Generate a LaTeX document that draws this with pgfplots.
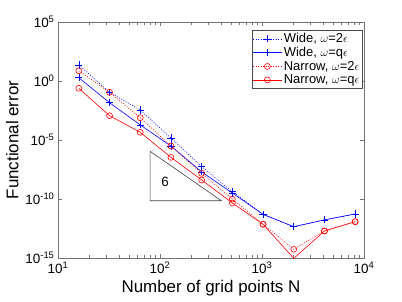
\documentclass[border=0pt]{standalone}
\usepackage{pgfplots}
\pgfplotsset{compat=1.18}
\usepackage{fontspec}
\setmainfont{Liberation Sans}
\begin{document}
\begin{tikzpicture}
\begin{axis}[name=ax, xmode=log, ymode=log, scale only axis,
  width=306bp, height=236bp,
  xmin=10, xmax=1e4, ymin=1e-15, ymax=1e5,
  xtick={10,100,1000,10000},
  xticklabels={10\textsuperscript{1},10\textsuperscript{2},10\textsuperscript{3},10\textsuperscript{4}},
  ytick={1e-15,1e-10,1e-5,1,1e5},
  yticklabels={10\textsuperscript{-15},10\textsuperscript{-10},10\textsuperscript{-5},10\textsuperscript{0},10\textsuperscript{5}},
  yminorticks=false,
  tick align=inside,
  axis line style={black!55},
  every tick/.style={black!55},
  tick label style={font=\fontsize{13.5}{14}\selectfont},
  label style={font=\fontsize{17}{18}\selectfont},
  xlabel={Number of grid points N},
  ylabel={Functional error},
  legend style={at={(0.995,0.965)}, anchor=north east, font=\fontsize{13}{13}\selectfont, draw=black!70, inner sep=1pt, row sep=-1pt},
  legend cell align=left,
  legend image code/.code={\draw[mark repeat=2,mark phase=2,#1] plot coordinates {(0cm,0cm) (0.5cm,0cm) (1cm,0cm)};},
]
\addplot[blue, line width=0.6pt, dash pattern=on 1pt off 1.5pt, mark=+, mark size=3.6pt, mark options={solid}] coordinates {
(16,2.3e1) (32,1.1e-1) (64,3.5e-3) (128,1.5e-5) (256,5.5e-8) (512,4.2e-10) (1024,5e-12) (2048,4.5e-13) (4096,1.7e-12) (8192,5.4e-12)};
\addlegendentry{Wide, $\omega$=2$\epsilon$}
\addplot[blue, line width=0.6pt, mark=+, mark size=3.6pt] coordinates {
(16,1.9e0) (32,1.45e-2) (64,1.9e-4) (128,3.1e-6) (256,2.0e-8) (512,3.2e-10) (1024,5e-12) (2048,4.5e-13) (4096,1.7e-12) (8192,5.4e-12)};
\addlegendentry{Wide, $\omega$=q$\epsilon$}
\addplot[red, line width=0.6pt, dash pattern=on 1pt off 1.5pt, mark=o, mark size=3pt, mark options={solid}] coordinates {
(16,7.4e0) (32,1.1e-1) (64,7.8e-4) (128,3.1e-6) (256,1.5e-8) (512,1.0e-10) (1024,7.2e-13) (2048,5.5e-15) (4096,1.95e-13) (8192,1.2e-12)};
\addlegendentry{Narrow, $\omega$=2$\epsilon$}
\addplot[red, line width=0.6pt, mark=o, mark size=3pt] coordinates {
(16,2.4e-1) (32,1.15e-3) (64,4.5e-5) (128,3.4e-7) (256,4.1e-9) (512,4.6e-11) (1024,7.2e-13) (2048,9.3e-16) (4096,1.95e-13) (8192,1.2e-12)};
\addlegendentry{Narrow, $\omega$=q$\epsilon$}
\addplot[black!75, line width=0.6pt, no marks, forget plot] coordinates {
(80,1.1e-6) (80,7.1e-11) (400,7.1e-11) (80,1.1e-6)};
\node[font=\fontsize{13.5}{14}\selectfont] at (axis cs:112,2.8e-9) {6};
\end{axis}
\pgfresetboundingbox
\path ([shift={(-58bp,-44bp)}]ax.south west) rectangle ([shift={(38bp,22bp)}]ax.north east);
\end{tikzpicture}
\end{document}
